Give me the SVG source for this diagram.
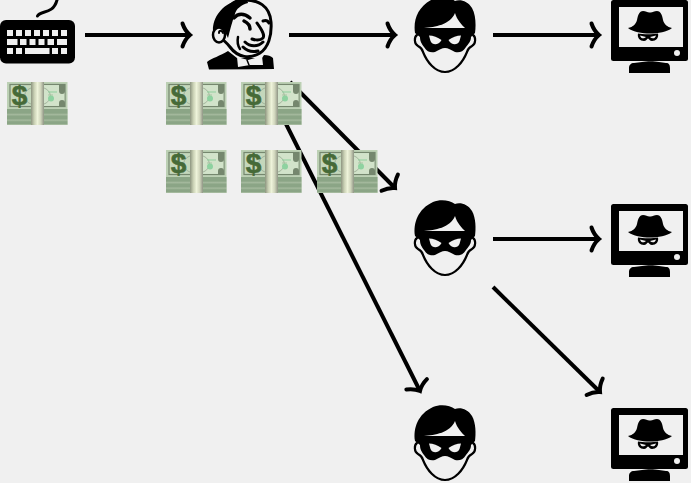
<svg xmlns="http://www.w3.org/2000/svg" xmlns:xlink="http://www.w3.org/1999/xlink" width="691" height="483" viewBox="0 0 691 483">
<style>
.conn{fill:none;stroke:#000;stroke-width:4;stroke-linecap:butt;marker-end:url(#head)}
.k{fill:#f0f0f0}
.dollar{font-family:"Liberation Sans",Arial,sans-serif;font-weight:700;font-size:28px;fill:#466a38;stroke:#466a38;stroke-width:.6;text-anchor:middle}
.line{fill:none;stroke:#000;stroke-linecap:round;stroke-linejoin:round}
</style>
<defs>
<marker id="head" markerUnits="userSpaceOnUse" viewBox="-20 -20 40 40" markerWidth="40" markerHeight="40" refX="0" refY="0" orient="auto" overflow="visible">
<path d="M-7.500-11.500C-6-7-3-2.500 0 0C-3 2.500-6 7-7.500 11.500" fill="none" stroke="#000" stroke-width="4" stroke-linecap="round"/>
</marker>
<linearGradient id="band" x1="0" x2="1" y1="0" y2="0">
<stop offset="0" stop-color="#8d9580"/><stop offset=".25" stop-color="#c9d0b4"/><stop offset=".5" stop-color="#eef3da"/><stop offset=".75" stop-color="#d0d5bc"/><stop offset="1" stop-color="#8f9585"/>
</linearGradient>
<linearGradient id="stack" x1="0" x2="0" y1="0" y2="1">
<stop offset="0" stop-color="#8ba586"/><stop offset=".25" stop-color="#8ba586"/><stop offset=".35" stop-color="#a4b99d"/><stop offset=".45" stop-color="#8ba586"/><stop offset=".6" stop-color="#8ba586"/><stop offset=".7" stop-color="#a4b99d"/><stop offset=".8" stop-color="#8ba586"/><stop offset=".92" stop-color="#8ba586"/><stop offset="1" stop-color="#b4c6ac"/>
</linearGradient>
<g id="money">
<rect width="60.500" height="43" fill="#bcd0b4"/>
<rect x="0" y="27" width="60.500" height="16" fill="url(#stack)"/>
<rect x="3" y="2.500" width="55" height="22" fill="#c4d7bb" stroke="#75876e" stroke-width="1.200"/>
<rect x="37" y="3.100" width="20.400" height="20.800" fill="#d2e3ca"/>
<ellipse cx="30.500" cy="14" rx="13" ry="9.500" fill="none" stroke="#97a890" stroke-width=".8"/>
<path d="M41 10H50" stroke="#8fcf9d" stroke-width="1"/>
<path d="M41 13H46" stroke="#a9c5a3" stroke-width="1"/>
<circle cx="44" cy="16.500" r="3" fill="#8ed2a0"/>
<path d="M52 2.500h6v6.500a3 3 0 0 1-6 0zM52 24.500h6v-3.500a3 3 0 0 0-6 0z" fill="#75876e"/>
<text class="dollar" x="12.500" y="22.500">$</text>
<rect x="24" y="0" width="13" height="43" fill="url(#band)"/>
</g>
<g id="robber">
<path fill-rule="evenodd" d="M15 33C13 20 18 6 33-1C40-4 50-3 55 1C60-1 68 1 72 8C76 15 76 26 75 33L71 37C71 42 68 44 66 47C63 52 59 53 55 52C51 50 48 48 45 48C42 48 39 50 35 52C31 53 27 52 24 47C22 44 20 42 20 37ZM24 28C35 27 50 25 55 13C57 20 62 25 65 28ZM29 35.500C33 35.500 38 37.500 41.500 40C38.500 45.500 32.500 45.500 30.500 41ZM61 35.500C57 35.500 52 37.500 48.500 40C51.500 45.500 57.500 45.500 59.500 41Z"/>
<path class="line" stroke-width="2.200" d="M17 35C14 37 14 44 18 46C20 47 22 48 23 52C27 62 35 72 45 72C55 72 63 62 67 52C68 48 70 47 72 46C76 44 76 37 73 35"/>
</g>
<g id="monitor">
<rect x="0" y="0" width="77" height="61" rx="2.500"/>
<rect class="k" x="8" y="7" width="64" height="40"/>
<circle class="k" cx="66" cy="53" r="3"/>
<path d="M18 73V68C18 65 20 63 23 63L31 62C36 61 43 61 48 62L55 63C58 63 59 65 59 68V73Z"/>
<path d="M17 28C22 27 25 24 26 20C27 14 29 11 32 11C35 11 37 13 39 12.500C41 13 43 11 46 11C49 11 51 14 52 20C53 24 56 27 61 28C56 32 47 33.500 39 33.500C31 33.500 22 32 17 28Z"/>
<path fill-rule="evenodd" d="M27 33.500C31 34.500 43 34.500 47 33.500C48 38 45 41 41 41C39 41 38 39 37 38.500C36 39 35 41 33 41C29 41 26 38 27 33.500ZM29 35.500C31 36 33 36.500 35 37C33 39 30 39 29 35.500ZM45 35.500C43 36 41 36.500 39 37C41 39 44 39 45 35.500Z"/>
</g>
</defs>
<rect width="691" height="483" fill="#f0f0f0"/>
<g id="connectors">
<path class="conn" d="M85 35H190"/>
<path class="conn" d="M289 35H395"/>
<path class="conn" d="M493 35H599"/>
<path class="conn" d="M493 239H599"/>
<path class="conn" d="M493 287L600 392"/>
<path class="conn" d="M290 82L395 188"/>
<path class="conn" d="M284 120L420 391"/>
</g>
<g id="keyboard">
<path class="line" stroke-width="3" fill="none" d="M37.500 16C40 10 53 15 57 0"/>
<rect x="0" y="20" width="75" height="43.500" rx="6"/>
<path class="k" d="M7 30h6v6h-6zM16 30h6v6h-6zM25 30h6v6h-6zM34 30h6v6h-6zM43 30h6v6h-6zM52 30h6v6h-6zM61 30h6v6h-6zM7 39h10.500v6h-10.500zM20 39h6.500v6h-6.500zM29.500 39h6v6h-6zM38.500 39h6v6h-6zM47.500 39h6.500v6h-6.500zM57 39h10v6h-10zM7 48h6v6h-6zM16 48h6v6h-6zM25 48h24.500v6h-24.500zM52 48h6v6h-6zM61 48h6v6h-6z"/>
</g>
<g id="jenkins">
<path d="M209 69.500L207 62C212 58 220 56 228 51L237 58H262L264 55C268 55 271 56 273 58L274 69Z"/>
<path class="k" d="M238 67L237 57L248 60L262 56L263 65L250 65Z"/>
<path class="line" stroke-width="1.500" d="M247 60L249 65"/>
<path class="k" stroke="#000" stroke-width="3" d="M242 0C258-1 270 6 271 22C272 36 268 48 260 53C250 59 238 58 230 47C226 42 224 40 220 38L224 20C228 6 232 1 242 0Z"/>
<path d="M213 32C212 18 222 3 242-1C246 0 248 1 248 3C241 5 236 9 235 14C232 22 230 30 228 38L224 30C220 26 216 28 213 32Z"/>
<ellipse class="k" cx="219" cy="35" rx="6" ry="7.500" stroke="#000" stroke-width="2.500"/>
<path class="line" stroke-width="2" d="M219 33C219 30 222 30 223 33"/>
<path class="line" stroke-width="3.500" d="M234 18C238 13 244 13 250 18"/>
<path class="line" stroke-width="3.500" d="M244 21C248 23 250 25 250 29"/>
<path class="line" stroke-width="3" d="M257 23C262 30 265 35 263 38C260 41 255 40 252 39"/>
<path class="line" stroke-width="3" d="M263 21C266 20 268 21 269 23"/>
<path class="line" stroke-width="3" d="M245 42C250 47 258 47 263 42"/>
<path class="line" stroke-width="3" d="M243 47C248 52 254 52 258 51"/>
<path class="line" stroke-width="2.500" d="M238 37C237 42 238 46 240 49"/>
</g>
<use id="robber-1" href="#robber" xlink:href="#robber" x="400" y="0"/>
<use id="robber-2" href="#robber" xlink:href="#robber" x="400" y="203"/>
<use id="robber-3" href="#robber" xlink:href="#robber" x="400" y="408"/>
<use id="monitor-1" href="#monitor" xlink:href="#monitor" x="611" y="0"/>
<use id="monitor-2" href="#monitor" xlink:href="#monitor" x="611" y="204"/>
<use id="monitor-3" href="#monitor" xlink:href="#monitor" x="611" y="408"/>
<use id="money-1" href="#money" xlink:href="#money" x="7" y="82"/>
<use id="money-2" href="#money" xlink:href="#money" x="166" y="82"/>
<use id="money-3" href="#money" xlink:href="#money" x="241" y="82"/>
<use id="money-4" href="#money" xlink:href="#money" x="166" y="150"/>
<use id="money-5" href="#money" xlink:href="#money" x="241" y="150"/>
<use id="money-6" href="#money" xlink:href="#money" x="317" y="150"/>
</svg>
